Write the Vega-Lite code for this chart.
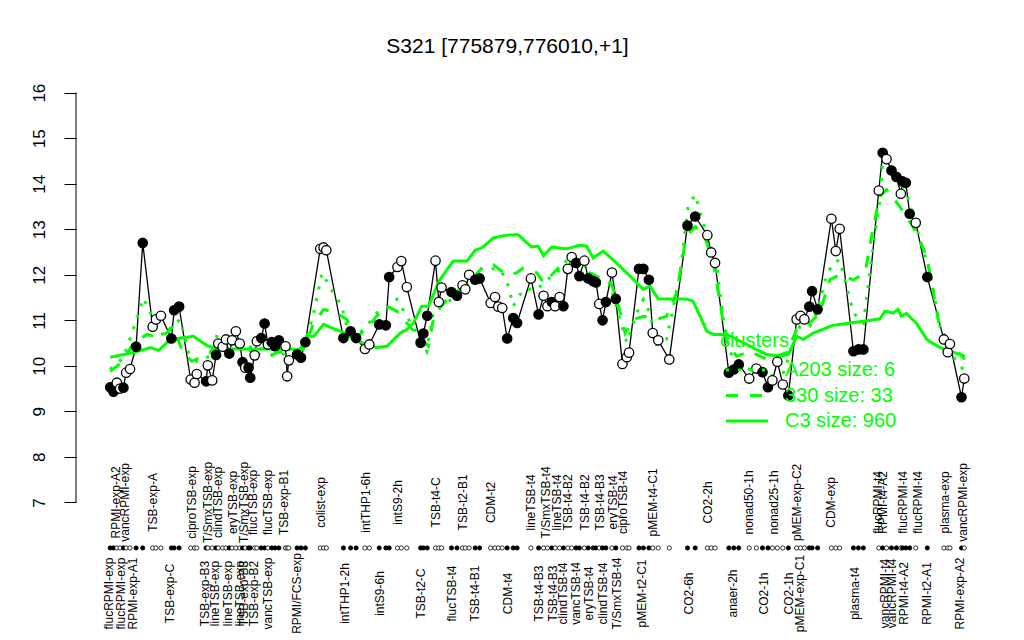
{
  "$schema": "https://vega.github.io/schema/vega-lite/v6.json",
  "width": 923,
  "height": 560,
  "autosize": {"type": "none"},
  "padding": {"left": 76, "top": 79, "right": 25, "bottom": 1},
  "background": "white",
  "title": {"text": "S321 [775879,776010,+1]", "fontSize": 21, "font": "Liberation Sans", "fontWeight": "normal", "anchor": "middle", "dx": -30, "offset": 22, "color": "black"},
  "config": {
    "view": {"stroke": null},
    "axisY": {"domain": false, "grid": false, "ticks": true, "tickSize": 12, "tickColor": "black", "tickWidth": 1, "labelAngle": 270, "labelAlign": "center", "labelBaseline": "bottom", "labelPadding": 16, "labelFontSize": 17, "labelFont": "Liberation Sans", "labelColor": "black", "title": null}
  },
  "datasets": {
    "pts": [
      {"i":1.0,"v":9.53,"f":"filled"},{"i":1.6,"v":9.43,"f":"filled"},{"i":2.2,"v":9.63,"f":"open"},{"i":2.8,"v":9.50,"f":"open"},{"i":3.4,"v":9.52,"f":"filled"},{"i":3.9,"v":9.85,"f":"open"},{"i":4.6,"v":9.93,"f":"open"},{"i":5.7,"v":10.42,"f":"filled"},{"i":6.9,"v":12.70,"f":"filled"},{"i":8.7,"v":10.86,"f":"open"},{"i":9.3,"v":11.02,"f":"open"},{"i":10.2,"v":11.10,"f":"open"},{"i":12.1,"v":10.60,"f":"filled"},{"i":12.6,"v":11.22,"f":"filled"},{"i":13.5,"v":11.30,"f":"filled"},{"i":15.6,"v":9.70,"f":"open"},{"i":16.3,"v":9.63,"f":"open"},{"i":16.7,"v":9.82,"f":"open"},{"i":18.4,"v":9.66,"f":"filled"},{"i":18.7,"v":10.01,"f":"open"},{"i":19.5,"v":9.68,"f":"open"},{"i":20.2,"v":10.24,"f":"filled"},{"i":20.6,"v":10.49,"f":"open"},{"i":21.4,"v":10.42,"f":"open"},{"i":22.0,"v":10.58,"f":"open"},{"i":22.6,"v":10.27,"f":"filled"},{"i":23.1,"v":10.56,"f":"open"},{"i":23.8,"v":10.76,"f":"open"},{"i":24.5,"v":10.49,"f":"open"},{"i":25.0,"v":10.08,"f":"filled"},{"i":25.5,"v":9.96,"f":"open"},{"i":26.1,"v":9.96,"f":"filled"},{"i":26.4,"v":9.74,"f":"filled"},{"i":27.2,"v":10.23,"f":"open"},{"i":27.6,"v":10.54,"f":"open"},{"i":28.4,"v":10.61,"f":"filled"},{"i":29.0,"v":10.93,"f":"filled"},{"i":29.6,"v":10.47,"f":"open"},{"i":30.3,"v":10.52,"f":"filled"},{"i":30.9,"v":10.43,"f":"filled"},{"i":31.6,"v":10.56,"f":"filled"},{"i":32.8,"v":10.43,"f":"open"},{"i":33.1,"v":9.77,"f":"open"},{"i":33.4,"v":10.12,"f":"open"},{"i":34.9,"v":10.25,"f":"filled"},{"i":35.6,"v":10.18,"f":"filled"},{"i":36.4,"v":10.52,"f":"filled"},{"i":39.1,"v":12.57,"f":"open"},{"i":39.7,"v":12.60,"f":"open"},{"i":40.2,"v":12.54,"f":"open"},{"i":43.3,"v":10.61,"f":"filled"},{"i":44.6,"v":10.76,"f":"filled"},{"i":45.6,"v":10.61,"f":"filled"},{"i":47.2,"v":10.37,"f":"open"},{"i":48.0,"v":10.47,"f":"open"},{"i":49.8,"v":10.91,"f":"filled"},{"i":51.0,"v":10.89,"f":"filled"},{"i":51.6,"v":11.95,"f":"filled"},{"i":53.1,"v":12.17,"f":"open"},{"i":53.8,"v":12.30,"f":"open"},{"i":54.8,"v":11.73,"f":"open"},{"i":57.3,"v":10.51,"f":"filled"},{"i":57.8,"v":10.71,"f":"filled"},{"i":58.5,"v":11.10,"f":"filled"},{"i":60.0,"v":12.31,"f":"open"},{"i":60.6,"v":11.40,"f":"open"},{"i":61.1,"v":11.72,"f":"open"},{"i":62.9,"v":11.62,"f":"filled"},{"i":63.9,"v":11.54,"f":"filled"},{"i":64.9,"v":11.77,"f":"open"},{"i":65.4,"v":11.68,"f":"open"},{"i":66.1,"v":12.00,"f":"open"},{"i":67.2,"v":11.89,"f":"filled"},{"i":68.0,"v":11.92,"f":"filled"},{"i":70.0,"v":11.38,"f":"open"},{"i":70.8,"v":11.51,"f":"open"},{"i":71.4,"v":11.30,"f":"open"},{"i":72.1,"v":11.27,"f":"open"},{"i":73.0,"v":10.60,"f":"filled"},{"i":74.1,"v":11.05,"f":"filled"},{"i":74.8,"v":10.94,"f":"filled"},{"i":77.3,"v":11.92,"f":"open"},{"i":78.7,"v":11.13,"f":"filled"},{"i":79.6,"v":11.54,"f":"open"},{"i":80.3,"v":11.31,"f":"open"},{"i":81.1,"v":11.40,"f":"filled"},{"i":81.7,"v":11.31,"f":"open"},{"i":82.5,"v":11.51,"f":"open"},{"i":83.2,"v":11.31,"f":"filled"},{"i":84.0,"v":12.13,"f":"open"},{"i":84.7,"v":12.39,"f":"open"},{"i":85.5,"v":12.26,"f":"filled"},{"i":86.1,"v":11.97,"f":"filled"},{"i":87.0,"v":12.31,"f":"open"},{"i":87.7,"v":11.92,"f":"filled"},{"i":88.6,"v":11.86,"f":"filled"},{"i":89.1,"v":11.83,"f":"filled"},{"i":89.7,"v":11.36,"f":"open"},{"i":90.3,"v":11.00,"f":"filled"},{"i":90.9,"v":11.40,"f":"filled"},{"i":92.0,"v":12.05,"f":"open"},{"i":92.7,"v":11.47,"f":"filled"},{"i":93.9,"v":10.04,"f":"open"},{"i":94.7,"v":10.19,"f":"open"},{"i":95.1,"v":10.29,"f":"open"},{"i":96.9,"v":12.13,"f":"filled"},{"i":97.7,"v":12.13,"f":"filled"},{"i":98.7,"v":11.89,"f":"filled"},{"i":99.4,"v":10.72,"f":"open"},{"i":100.4,"v":10.56,"f":"open"},{"i":102.4,"v":10.14,"f":"open"},{"i":105.7,"v":13.08,"f":"filled"},{"i":107.1,"v":13.28,"f":"filled"},{"i":109.3,"v":12.87,"f":"open"},{"i":110.0,"v":12.49,"f":"open"},{"i":110.7,"v":12.26,"f":"open"},{"i":113.2,"v":9.85,"f":"filled"},{"i":114.1,"v":9.92,"f":"filled"},{"i":115.0,"v":10.03,"f":"filled"},{"i":116.9,"v":9.72,"f":"open"},{"i":118.2,"v":9.94,"f":"open"},{"i":119.3,"v":9.86,"f":"filled"},{"i":120.3,"v":9.53,"f":"filled"},{"i":121.1,"v":9.68,"f":"open"},{"i":122.0,"v":10.09,"f":"open"},{"i":123.0,"v":9.59,"f":"open"},{"i":124.0,"v":9.35,"f":"filled"},{"i":125.5,"v":11.02,"f":"open"},{"i":126.2,"v":11.10,"f":"open"},{"i":126.9,"v":11.02,"f":"open"},{"i":127.8,"v":11.30,"f":"filled"},{"i":128.3,"v":11.64,"f":"filled"},{"i":129.3,"v":11.24,"f":"filled"},{"i":131.8,"v":13.23,"f":"open"},{"i":132.6,"v":12.52,"f":"open"},{"i":133.3,"v":13.01,"f":"open"},{"i":135.8,"v":10.32,"f":"filled"},{"i":136.7,"v":10.36,"f":"filled"},{"i":137.6,"v":10.36,"f":"filled"},{"i":140.4,"v":13.85,"f":"open"},{"i":141.1,"v":14.68,"f":"filled"},{"i":141.8,"v":14.54,"f":"open"},{"i":142.7,"v":14.29,"f":"filled"},{"i":143.6,"v":14.15,"f":"filled"},{"i":144.4,"v":13.78,"f":"open"},{"i":144.7,"v":14.05,"f":"filled"},{"i":145.3,"v":14.02,"f":"filled"},{"i":146.0,"v":13.34,"f":"filled"},{"i":147.1,"v":13.14,"f":"open"},{"i":149.2,"v":11.95,"f":"filled"},{"i":152.2,"v":10.58,"f":"open"},{"i":152.9,"v":10.30,"f":"open"},{"i":153.3,"v":10.48,"f":"open"},{"i":155.4,"v":9.31,"f":"filled"},{"i":155.9,"v":9.72,"f":"open"}
    ],
    "cl": [
      {"c":"C3 size: 960","i":1.0,"v":10.19},{"c":"C3 size: 960","i":5.2,"v":10.29},{"c":"C3 size: 960","i":8.3,"v":10.40},{"c":"C3 size: 960","i":9.8,"v":10.34},{"c":"C3 size: 960","i":11.3,"v":10.51},{"c":"C3 size: 960","i":13.7,"v":10.61},{"c":"C3 size: 960","i":16.1,"v":10.65},{"c":"C3 size: 960","i":18.5,"v":10.45},{"c":"C3 size: 960","i":20.3,"v":10.37},{"c":"C3 size: 960","i":24.6,"v":10.37},{"c":"C3 size: 960","i":29.4,"v":10.37},{"c":"C3 size: 960","i":35.4,"v":10.36},{"c":"C3 size: 960","i":36.7,"v":10.65},{"c":"C3 size: 960","i":37.9,"v":10.65},{"c":"C3 size: 960","i":39.7,"v":10.91},{"c":"C3 size: 960","i":43.3,"v":10.73},{"c":"C3 size: 960","i":45.7,"v":10.55},{"c":"C3 size: 960","i":49.3,"v":10.40},{"c":"C3 size: 960","i":51.2,"v":10.43},{"c":"C3 size: 960","i":53.6,"v":10.72},{"c":"C3 size: 960","i":54.8,"v":10.80},{"c":"C3 size: 960","i":56.0,"v":10.94},{"c":"C3 size: 960","i":57.5,"v":11.31},{"c":"C3 size: 960","i":58.7,"v":11.31},{"c":"C3 size: 960","i":60.8,"v":11.89},{"c":"C3 size: 960","i":63.2,"v":12.30},{"c":"C3 size: 960","i":65.7,"v":12.30},{"c":"C3 size: 960","i":67.2,"v":12.54},{"c":"C3 size: 960","i":68.4,"v":12.59},{"c":"C3 size: 960","i":70.5,"v":12.81},{"c":"C3 size: 960","i":72.9,"v":12.87},{"c":"C3 size: 960","i":75.0,"v":12.88},{"c":"C3 size: 960","i":77.4,"v":12.61},{"c":"C3 size: 960","i":78.6,"v":12.63},{"c":"C3 size: 960","i":79.6,"v":12.42},{"c":"C3 size: 960","i":81.1,"v":12.61},{"c":"C3 size: 960","i":83.8,"v":12.57},{"c":"C3 size: 960","i":86.2,"v":12.65},{"c":"C3 size: 960","i":87.4,"v":12.63},{"c":"C3 size: 960","i":88.6,"v":12.37},{"c":"C3 size: 960","i":90.4,"v":12.52},{"c":"C3 size: 960","i":92.2,"v":12.33},{"c":"C3 size: 960","i":94.7,"v":12.04},{"c":"C3 size: 960","i":97.7,"v":11.68},{"c":"C3 size: 960","i":98.9,"v":11.75},{"c":"C3 size: 960","i":100.4,"v":11.47},{"c":"C3 size: 960","i":105.5,"v":11.47},{"c":"C3 size: 960","i":106.7,"v":11.42},{"c":"C3 size: 960","i":108.0,"v":11.09},{"c":"C3 size: 960","i":109.2,"v":10.76},{"c":"C3 size: 960","i":110.4,"v":10.69},{"c":"C3 size: 960","i":112.8,"v":10.69},{"c":"C3 size: 960","i":115.8,"v":10.51},{"c":"C3 size: 960","i":118.2,"v":10.36},{"c":"C3 size: 960","i":120.1,"v":10.25},{"c":"C3 size: 960","i":122.5,"v":10.21},{"c":"C3 size: 960","i":124.0,"v":10.25},{"c":"C3 size: 960","i":125.5,"v":10.65},{"c":"C3 size: 960","i":126.7,"v":10.58},{"c":"C3 size: 960","i":128.5,"v":10.72},{"c":"C3 size: 960","i":132.1,"v":10.89},{"c":"C3 size: 960","i":135.2,"v":10.94},{"c":"C3 size: 960","i":140.6,"v":11.03},{"c":"C3 size: 960","i":141.5,"v":11.20},{"c":"C3 size: 960","i":143.0,"v":11.16},{"c":"C3 size: 960","i":143.9,"v":11.24},{"c":"C3 size: 960","i":144.5,"v":11.09},{"c":"C3 size: 960","i":145.4,"v":11.15},{"c":"C3 size: 960","i":147.2,"v":10.94},{"c":"C3 size: 960","i":149.1,"v":10.58},{"c":"C3 size: 960","i":151.5,"v":10.40},{"c":"C3 size: 960","i":153.9,"v":10.30},{"c":"C3 size: 960","i":156.0,"v":10.21},
      {"c":"330 size: 33","i":1.0,"v":9.88},{"c":"330 size: 33","i":3.4,"v":10.10},{"c":"330 size: 33","i":5.2,"v":10.51},{"c":"330 size: 33","i":7.7,"v":10.69},{"c":"330 size: 33","i":9.7,"v":10.62},{"c":"330 size: 33","i":11.3,"v":10.73},{"c":"330 size: 33","i":12.4,"v":10.87},{"c":"330 size: 33","i":14.2,"v":10.29},{"c":"330 size: 33","i":15.8,"v":10.10},{"c":"330 size: 33","i":17.3,"v":10.18},{"c":"330 size: 33","i":19.1,"v":10.29},{"c":"330 size: 33","i":20.6,"v":10.53},{"c":"330 size: 33","i":23.1,"v":10.54},{"c":"330 size: 33","i":25.1,"v":10.36},{"c":"330 size: 33","i":27.6,"v":10.29},{"c":"330 size: 33","i":29.4,"v":10.18},{"c":"330 size: 33","i":30.5,"v":10.25},{"c":"330 size: 33","i":33.0,"v":10.36},{"c":"330 size: 33","i":36.0,"v":10.36},{"c":"330 size: 33","i":37.9,"v":10.94},{"c":"330 size: 33","i":39.7,"v":11.24},{"c":"330 size: 33","i":42.1,"v":11.16},{"c":"330 size: 33","i":43.9,"v":11.02},{"c":"330 size: 33","i":45.7,"v":10.65},{"c":"330 size: 33","i":47.5,"v":10.80},{"c":"330 size: 33","i":49.3,"v":11.09},{"c":"330 size: 33","i":51.2,"v":11.31},{"c":"330 size: 33","i":53.0,"v":11.20},{"c":"330 size: 33","i":54.8,"v":10.94},{"c":"330 size: 33","i":56.6,"v":10.69},{"c":"330 size: 33","i":58.7,"v":10.43},{"c":"330 size: 33","i":59.6,"v":11.02},{"c":"330 size: 33","i":60.8,"v":11.27},{"c":"330 size: 33","i":62.6,"v":11.53},{"c":"330 size: 33","i":64.5,"v":11.68},{"c":"330 size: 33","i":66.3,"v":11.86},{"c":"330 size: 33","i":68.7,"v":12.19},{"c":"330 size: 33","i":70.5,"v":12.22},{"c":"330 size: 33","i":72.9,"v":12.00},{"c":"330 size: 33","i":74.7,"v":12.04},{"c":"330 size: 33","i":75.9,"v":12.15},{"c":"330 size: 33","i":78.4,"v":12.04},{"c":"330 size: 33","i":79.6,"v":11.82},{"c":"330 size: 33","i":81.4,"v":12.04},{"c":"330 size: 33","i":83.2,"v":12.26},{"c":"330 size: 33","i":85.6,"v":12.30},{"c":"330 size: 33","i":88.0,"v":12.04},{"c":"330 size: 33","i":89.8,"v":11.93},{"c":"330 size: 33","i":91.6,"v":11.89},{"c":"330 size: 33","i":92.9,"v":11.46},{"c":"330 size: 33","i":94.4,"v":10.72},{"c":"330 size: 33","i":95.9,"v":11.02},{"c":"330 size: 33","i":97.7,"v":11.09},{"c":"330 size: 33","i":100.1,"v":11.02},{"c":"330 size: 33","i":101.9,"v":11.09},{"c":"330 size: 33","i":103.7,"v":11.60},{"c":"330 size: 33","i":105.5,"v":12.85},{"c":"330 size: 33","i":107.1,"v":13.06},{"c":"330 size: 33","i":108.6,"v":12.92},{"c":"330 size: 33","i":110.4,"v":12.26},{"c":"330 size: 33","i":112.8,"v":10.51},{"c":"330 size: 33","i":114.6,"v":10.21},{"c":"330 size: 33","i":117.0,"v":10.32},{"c":"330 size: 33","i":120.1,"v":10.14},{"c":"330 size: 33","i":123.7,"v":10.29},{"c":"330 size: 33","i":125.5,"v":10.80},{"c":"330 size: 33","i":127.9,"v":10.94},{"c":"330 size: 33","i":129.7,"v":11.16},{"c":"330 size: 33","i":131.5,"v":11.89},{"c":"330 size: 33","i":133.3,"v":12.00},{"c":"330 size: 33","i":135.8,"v":11.89},{"c":"330 size: 33","i":137.9,"v":12.04},{"c":"330 size: 33","i":139.4,"v":13.06},{"c":"330 size: 33","i":140.6,"v":13.72},{"c":"330 size: 33","i":141.8,"v":13.87},{"c":"330 size: 33","i":144.2,"v":13.50},{"c":"330 size: 33","i":146.6,"v":13.06},{"c":"330 size: 33","i":149.1,"v":12.41},{"c":"330 size: 33","i":151.5,"v":10.80},{"c":"330 size: 33","i":153.9,"v":10.43},{"c":"330 size: 33","i":156.0,"v":10.14},
      {"c":"A203 size: 6","i":1.0,"v":9.92},{"c":"A203 size: 6","i":3.4,"v":10.18},{"c":"A203 size: 6","i":5.8,"v":11.02},{"c":"A203 size: 6","i":7.0,"v":11.49},{"c":"A203 size: 6","i":8.3,"v":11.16},{"c":"A203 size: 6","i":10.7,"v":10.65},{"c":"A203 size: 6","i":12.2,"v":10.87},{"c":"A203 size: 6","i":13.7,"v":11.02},{"c":"A203 size: 6","i":15.2,"v":10.29},{"c":"A203 size: 6","i":16.7,"v":10.10},{"c":"A203 size: 6","i":19.1,"v":10.21},{"c":"A203 size: 6","i":20.3,"v":10.65},{"c":"A203 size: 6","i":24.6,"v":10.40},{"c":"A203 size: 6","i":27.6,"v":10.43},{"c":"A203 size: 6","i":30.6,"v":10.21},{"c":"A203 size: 6","i":36.0,"v":10.36},{"c":"A203 size: 6","i":37.9,"v":11.16},{"c":"A203 size: 6","i":38.8,"v":11.68},{"c":"A203 size: 6","i":39.4,"v":12.04},{"c":"A203 size: 6","i":41.5,"v":11.60},{"c":"A203 size: 6","i":43.0,"v":11.31},{"c":"A203 size: 6","i":43.9,"v":10.87},{"c":"A203 size: 6","i":45.7,"v":10.65},{"c":"A203 size: 6","i":47.5,"v":10.87},{"c":"A203 size: 6","i":49.3,"v":11.16},{"c":"A203 size: 6","i":51.2,"v":11.27},{"c":"A203 size: 6","i":53.0,"v":11.46},{"c":"A203 size: 6","i":54.8,"v":11.09},{"c":"A203 size: 6","i":56.6,"v":10.72},{"c":"A203 size: 6","i":58.4,"v":10.32},{"c":"A203 size: 6","i":59.6,"v":11.16},{"c":"A203 size: 6","i":61.4,"v":11.38},{"c":"A203 size: 6","i":63.2,"v":11.46},{"c":"A203 size: 6","i":65.7,"v":11.75},{"c":"A203 size: 6","i":66.9,"v":12.11},{"c":"A203 size: 6","i":69.3,"v":12.15},{"c":"A203 size: 6","i":71.7,"v":12.11},{"c":"A203 size: 6","i":72.9,"v":11.89},{"c":"A203 size: 6","i":74.1,"v":11.31},{"c":"A203 size: 6","i":75.9,"v":11.68},{"c":"A203 size: 6","i":78.4,"v":11.68},{"c":"A203 size: 6","i":80.2,"v":11.89},{"c":"A203 size: 6","i":82.0,"v":12.04},{"c":"A203 size: 6","i":84.4,"v":12.41},{"c":"A203 size: 6","i":86.2,"v":12.26},{"c":"A203 size: 6","i":88.0,"v":12.11},{"c":"A203 size: 6","i":89.8,"v":11.75},{"c":"A203 size: 6","i":91.6,"v":11.82},{"c":"A203 size: 6","i":93.1,"v":11.16},{"c":"A203 size: 6","i":94.7,"v":10.51},{"c":"A203 size: 6","i":96.5,"v":11.16},{"c":"A203 size: 6","i":97.7,"v":11.46},{"c":"A203 size: 6","i":98.9,"v":11.16},{"c":"A203 size: 6","i":100.1,"v":10.47},{"c":"A203 size: 6","i":101.9,"v":10.58},{"c":"A203 size: 6","i":104.3,"v":11.97},{"c":"A203 size: 6","i":105.8,"v":13.50},{"c":"A203 size: 6","i":107.1,"v":13.76},{"c":"A203 size: 6","i":108.0,"v":13.36},{"c":"A203 size: 6","i":109.8,"v":12.63},{"c":"A203 size: 6","i":111.0,"v":12.19},{"c":"A203 size: 6","i":112.2,"v":11.02},{"c":"A203 size: 6","i":113.4,"v":10.29},{"c":"A203 size: 6","i":115.8,"v":9.99},{"c":"A203 size: 6","i":118.2,"v":9.85},{"c":"A203 size: 6","i":120.7,"v":9.77},{"c":"A203 size: 6","i":123.1,"v":9.85},{"c":"A203 size: 6","i":124.9,"v":10.51},{"c":"A203 size: 6","i":126.1,"v":10.87},{"c":"A203 size: 6","i":127.9,"v":10.87},{"c":"A203 size: 6","i":129.1,"v":11.16},{"c":"A203 size: 6","i":130.9,"v":11.97},{"c":"A203 size: 6","i":132.1,"v":12.26},{"c":"A203 size: 6","i":133.3,"v":12.33},{"c":"A203 size: 6","i":135.8,"v":11.16},{"c":"A203 size: 6","i":137.6,"v":10.94},{"c":"A203 size: 6","i":139.4,"v":12.63},{"c":"A203 size: 6","i":140.6,"v":13.65},{"c":"A203 size: 6","i":141.2,"v":14.60},{"c":"A203 size: 6","i":143.0,"v":14.31},{"c":"A203 size: 6","i":145.4,"v":13.80},{"c":"A203 size: 6","i":147.2,"v":13.06},{"c":"A203 size: 6","i":149.7,"v":12.04},{"c":"A203 size: 6","i":151.5,"v":10.87},{"c":"A203 size: 6","i":153.3,"v":10.29},{"c":"A203 size: 6","i":155.7,"v":9.92}
    ],
    "lab": [
      {"s":"top","i":2.09,"t":"RPMI-exp-A2"},{"s":"top","i":3.72,"t":"vancRPMI-exp"},{"s":"top","i":8.74,"t":"TSB-exp-A"},{"s":"top","i":15.81,"t":"ciproTSB-exp"},{"s":"top","i":18.82,"t":"T/SmxTSB-exp"},{"s":"top","i":20.63,"t":"clindTSB-exp"},{"s":"top","i":23.24,"t":"eryTSB-exp"},{"s":"top","i":25.29,"t":"T/SmxTSB-exp"},{"s":"top","i":26.87,"t":"flucTSB-exp"},{"s":"top","i":29.70,"t":"flucTSB-exp"},{"s":"top","i":32.54,"t":"TSB-exp-B1"},{"s":"top","i":39.20,"t":"colist-exp"},{"s":"top","i":47.41,"t":"intTHP1-6h"},{"s":"top","i":53.27,"t":"intS9-2h"},{"s":"top","i":60.10,"t":"TSB-t4-C"},{"s":"top","i":64.94,"t":"TSB-t2-B1"},{"s":"top","i":70.07,"t":"CDM-t2"},{"s":"top","i":77.27,"t":"lineTSB-t4"},{"s":"top","i":80.04,"t":"T/SmxTSB-t4"},{"s":"top","i":82.09,"t":"lineTSB-t4"},{"s":"top","i":84.09,"t":"TSB-t4-B2"},{"s":"top","i":87.11,"t":"TSB-t4-B2"},{"s":"top","i":89.83,"t":"TSB-t4-B3"},{"s":"top","i":92.13,"t":"eryTSB-t4"},{"s":"top","i":93.95,"t":"ciproTSB-t4"},{"s":"top","i":99.50,"t":"pMEM-t4-C1"},{"s":"top","i":109.47,"t":"CO2-2h"},{"s":"top","i":116.90,"t":"nonad50-1h"},{"s":"top","i":121.38,"t":"nonad25-1h"},{"s":"top","i":125.60,"t":"pMEM-exp-C2"},{"s":"top","i":131.66,"t":"CDM-exp"},{"s":"top","i":140.29,"t":"flucRPMI-t4"},{"s":"top","i":141.09,"t":"RPMI-t4-A2"},{"s":"top","i":144.82,"t":"flucRPMI-t4"},{"s":"top","i":147.54,"t":"flucRPMI-t4"},{"s":"top","i":152.38,"t":"plasma-exp"},{"s":"top","i":155.70,"t":"vancRPMI-exp"},
      {"s":"bottom","i":0.87,"t":"flucRPMI-exp"},{"s":"bottom","i":2.94,"t":"flucRPMI-exp"},{"s":"bottom","i":5.22,"t":"RPMI-exp-A1"},{"s":"bottom","i":11.88,"t":"TSB-exp-C"},{"s":"bottom","i":18.22,"t":"TSB-exp-B3"},{"s":"bottom","i":20.04,"t":"lineTSB-exp"},{"s":"bottom","i":22.45,"t":"lineTSB-exp"},{"s":"bottom","i":24.57,"t":"lineTSB-exp"},{"s":"bottom","i":25.29,"t":"TSB-exp-B3"},{"s":"bottom","i":27.11,"t":"TSB-exp-B2"},{"s":"bottom","i":29.70,"t":"vancTSB-exp"},{"s":"bottom","i":34.85,"t":"RPMI/FCS-exp"},{"s":"bottom","i":43.60,"t":"intTHP1-2h"},{"s":"bottom","i":49.95,"t":"intS9-6h"},{"s":"bottom","i":57.33,"t":"TSB-t2-C"},{"s":"bottom","i":62.95,"t":"flucTSB-t4"},{"s":"bottom","i":67.17,"t":"TSB-t4-B1"},{"s":"bottom","i":73.21,"t":"CDM-t4"},{"s":"bottom","i":78.83,"t":"TSB-t4-B3"},{"s":"bottom","i":81.26,"t":"TSB-t4-B3"},{"s":"bottom","i":83.18,"t":"clindTSB-t4"},{"s":"bottom","i":85.48,"t":"vancTSB-t4"},{"s":"bottom","i":87.89,"t":"eryTSB-t4"},{"s":"bottom","i":90.43,"t":"clindTSB-t4"},{"s":"bottom","i":92.86,"t":"T/SmxTSB-t4"},{"s":"bottom","i":97.39,"t":"pMEM-t2-C1"},{"s":"bottom","i":106.02,"t":"CO2-6h"},{"s":"bottom","i":114.0,"t":"anaer-2h"},{"s":"bottom","i":119.56,"t":"CO2-1h"},{"s":"bottom","i":124.15,"t":"CO2-1h"},{"s":"bottom","i":126.09,"t":"pMEM-exp-C1"},{"s":"bottom","i":136.06,"t":"plasma-t4"},{"s":"bottom","i":141.5,"t":"vancRPMI-t4"},{"s":"bottom","i":142.72,"t":"vancRPMI-t4"},{"s":"bottom","i":144.95,"t":"RPMI-t4-A2"},{"s":"bottom","i":149.17,"t":"RPMI-t2-A1"},{"s":"bottom","i":155.10,"t":"RPMI-exp-A2"}
    ]
  },
  "layer": [
    {
      "data": {"values": [{}]},
      "mark": {"type": "rule", "color": "black", "strokeWidth": 1},
      "encoding": {
        "x": {"datum": -5.2, "type": "quantitative", "scale": {"domain": [-5.2, 162.2], "nice": false, "zero": false}, "axis": null},
        "y": {"datum": 7, "type": "quantitative", "scale": {"domain": [4, 16.3], "nice": false, "zero": false}, "axis": {"values": [7, 8, 9, 10, 11, 12, 13, 14, 15, 16]}},
        "y2": {"datum": 16}
      }
    },
    {
      "data": {"name": "pts"},
      "mark": {"type": "line", "color": "black", "strokeWidth": 1.3},
      "encoding": {
        "x": {"field": "i", "type": "quantitative", "axis": null},
        "y": {"field": "v", "type": "quantitative", "axis": {"values": [7, 8, 9, 10, 11, 12, 13, 14, 15, 16]}}
      }
    },
    {
      "data": {"name": "cl"},
      "mark": {"type": "line", "color": "#00FF00", "strokeWidth": 3},
      "encoding": {
        "x": {"field": "i", "type": "quantitative", "axis": null},
        "y": {"field": "v", "type": "quantitative", "axis": {"values": [7, 8, 9, 10, 11, 12, 13, 14, 15, 16]}},
        "strokeDash": {
          "field": "c", "type": "nominal",
          "scale": {"domain": ["A203 size: 6", "330 size: 33", "C3 size: 960"], "range": [[3, 9], [12, 12], [1, 0]]},
          "legend": {"orient": "none", "legendX": 644, "legendY": 252, "title": "clusters", "titleColor": "#00FF00", "titleFontSize": 20, "titleFont": "Liberation Sans", "titleFontWeight": "normal", "titlePadding": 7, "labelColor": "#00FF00", "labelFontSize": 20, "labelFont": "Liberation Sans", "symbolType": "M-2,0H2", "symbolStrokeColor": "#00FF00", "symbolStrokeWidth": 3, "symbolSize": 441, "symbolOffset": 15, "labelOffset": 26, "rowPadding": 3.5, "padding": 0}
        }
      }
    },
    {
      "data": {"name": "pts"},
      "mark": {"type": "point", "shape": "circle", "filled": true, "size": 88, "stroke": "black", "strokeWidth": 1.3, "opacity": 1},
      "encoding": {
        "x": {"field": "i", "type": "quantitative", "axis": null},
        "y": {"field": "v", "type": "quantitative", "axis": {"values": [7, 8, 9, 10, 11, 12, 13, 14, 15, 16]}},
        "fill": {"field": "f", "type": "nominal", "scale": {"domain": ["filled", "open"], "range": ["black", "white"]}, "legend": null}
      }
    },
    {
      "data": {"name": "pts"},
      "mark": {"type": "point", "shape": "circle", "filled": true, "size": 18, "stroke": "black", "strokeWidth": 0.8, "opacity": 1},
      "encoding": {
        "x": {"field": "i", "type": "quantitative", "axis": null},
        "y": {"datum": 6, "type": "quantitative", "axis": {"values": [7, 8, 9, 10, 11, 12, 13, 14, 15, 16]}},
        "fill": {"field": "f", "type": "nominal", "scale": {"domain": ["filled", "open"], "range": ["black", "white"]}, "legend": null}
      }
    },
    {
      "data": {"name": "lab"},
      "transform": [{"filter": "datum.s === 'top'"}],
      "mark": {"type": "text", "angle": 270, "align": "center", "baseline": "middle", "fontSize": 12, "font": "Liberation Sans", "color": "black"},
      "encoding": {
        "x": {"field": "i", "type": "quantitative", "axis": null},
        "y": {"datum": 7, "type": "quantitative", "axis": {"values": [7, 8, 9, 10, 11, 12, 13, 14, 15, 16]}},
        "text": {"field": "t"}
      }
    },
    {
      "data": {"name": "lab"},
      "transform": [{"filter": "datum.s === 'bottom'"}],
      "mark": {"type": "text", "angle": 270, "align": "center", "baseline": "middle", "fontSize": 12, "font": "Liberation Sans", "color": "black"},
      "encoding": {
        "x": {"field": "i", "type": "quantitative", "axis": null},
        "y": {"datum": 5, "type": "quantitative", "axis": {"values": [7, 8, 9, 10, 11, 12, 13, 14, 15, 16]}},
        "text": {"field": "t"}
      }
    }
  ]
}
